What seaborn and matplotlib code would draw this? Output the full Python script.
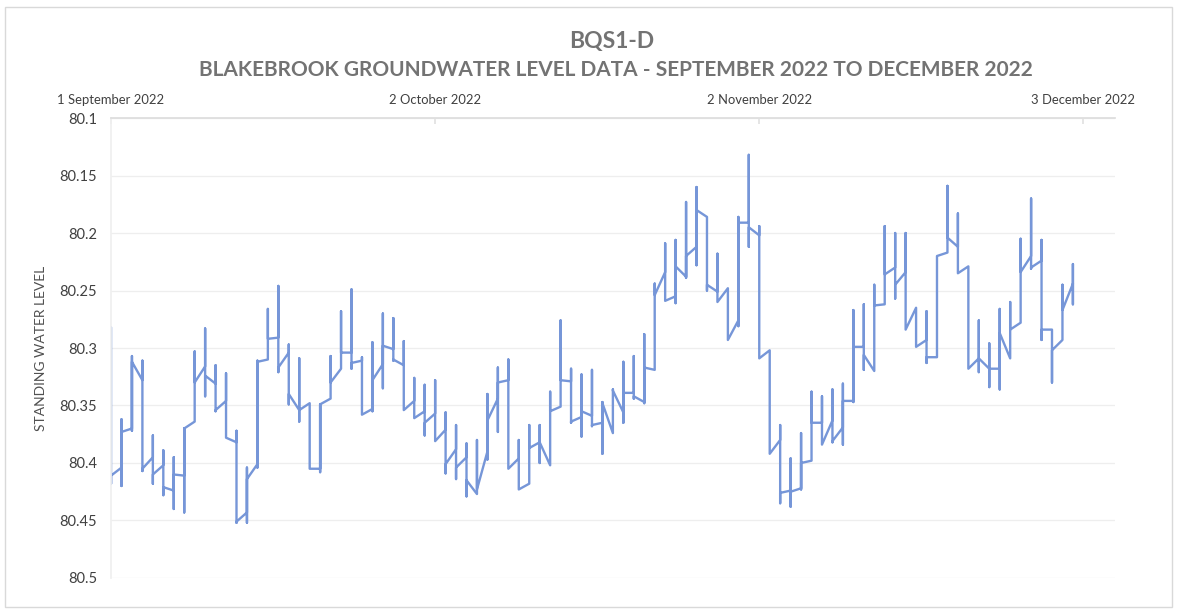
import pandas as pd
import matplotlib
matplotlib.use('Agg')
import matplotlib.pyplot as plt
from matplotlib.patches import Rectangle
import seaborn as sns

# daily readings, 1 Sep 2022 onwards: first reading, shallowest, deepest, last reading
start_date = '2022-09-01'
day_min = [80.282, 80.362, 80.307, 80.311, 80.376, 80.389, 80.395, 80.370, 80.303, 80.283,
           80.315, 80.322, 80.372, 80.404, 80.311, 80.266, 80.246, 80.297, 80.309, 80.348,
           80.349, 80.307, 80.268, 80.249, 80.308, 80.295, 80.270, 80.274, 80.294, 80.326,
           80.332, 80.328, 80.356, 80.367, 80.383, 80.380, 80.340, 80.317, 80.310, 80.380,
           80.367, 80.367, 80.338, 80.276, 80.318, 80.323, 80.319, 80.347, 80.336, 80.312,
           80.307, 80.288, 80.244, 80.209, 80.206, 80.173, 80.160, 80.186, 80.218, 80.248,
           80.186, 80.132, 80.194, 80.302, 80.367, 80.396, 80.374, 80.338, 80.342, 80.336,
           80.331, 80.267, 80.262, 80.245, 80.194, 80.200, 80.200, 80.265, 80.268, 80.220,
           80.159, 80.183, 80.229, 80.276, 80.296, 80.266, 80.260, 80.205, 80.170, 80.206,
           80.284, 80.245, 80.227]
day_max = [80.418, 80.420, 80.372, 80.407, 80.418, 80.428, 80.440, 80.443, 80.364, 80.342,
           80.355, 80.378, 80.452, 80.452, 80.404, 80.310, 80.321, 80.349, 80.364, 80.405,
           80.408, 80.344, 80.318, 80.318, 80.358, 80.355, 80.335, 80.311, 80.354, 80.361,
           80.376, 80.381, 80.409, 80.414, 80.429, 80.427, 80.397, 80.373, 80.405, 80.423,
           80.418, 80.400, 80.402, 80.351, 80.365, 80.377, 80.368, 80.392, 80.374, 80.365,
           80.344, 80.348, 80.319, 80.259, 80.261, 80.239, 80.228, 80.250, 80.260, 80.293,
           80.281, 80.212, 80.309, 80.392, 80.435, 80.438, 80.423, 80.398, 80.384, 80.382,
           80.384, 80.347, 80.319, 80.320, 80.262, 80.257, 80.284, 80.299, 80.313, 80.308,
           80.217, 80.235, 80.318, 80.321, 80.334, 80.336, 80.309, 80.278, 80.231, 80.293,
           80.330, 80.293, 80.262]
day_first = [80.282, 80.404, 80.370, 80.328, 80.395, 80.402, 80.424, 80.411, 80.364, 80.316,
             80.331, 80.346, 80.382, 80.443, 80.401, 80.310, 80.291, 80.304, 80.354, 80.348,
             80.405, 80.344, 80.318, 80.304, 80.311, 80.353, 80.314, 80.301, 80.315, 80.346,
             80.355, 80.357, 80.371, 80.388, 80.395, 80.427, 80.390, 80.344, 80.328, 80.396,
             80.418, 80.382, 80.402, 80.351, 80.329, 80.360, 80.359, 80.365, 80.374, 80.356,
             80.339, 80.347, 80.319, 80.234, 80.255, 80.238, 80.212, 80.186, 80.251, 80.248,
             80.276, 80.191, 80.202, 80.302, 80.380, 80.424, 80.422, 80.398, 80.365, 80.363,
             80.369, 80.346, 80.299, 80.320, 80.262, 80.230, 80.234, 80.265, 80.293, 80.308,
             80.217, 80.212, 80.229, 80.309, 80.318, 80.318, 80.309, 80.278, 80.220, 80.224,
             80.284, 80.293, 80.244]
day_last = [80.411, 80.373, 80.312, 80.405, 80.410, 80.421, 80.410, 80.370, 80.330, 80.324,
            80.354, 80.378, 80.451, 80.414, 80.312, 80.292, 80.317, 80.340, 80.354, 80.405,
            80.349, 80.330, 80.304, 80.313, 80.358, 80.328, 80.298, 80.310, 80.354, 80.361,
            80.365, 80.381, 80.401, 80.404, 80.415, 80.423, 80.363, 80.330, 80.405, 80.423,
            80.387, 80.382, 80.355, 80.328, 80.364, 80.355, 80.367, 80.348, 80.337, 80.339,
            80.342, 80.317, 80.254, 80.259, 80.229, 80.220, 80.180, 80.245, 80.260, 80.293,
            80.191, 80.195, 80.309, 80.392, 80.426, 80.425, 80.400, 80.365, 80.384, 80.381,
            80.346, 80.299, 80.306, 80.263, 80.236, 80.245, 80.284, 80.299, 80.308, 80.220,
            80.204, 80.235, 80.318, 80.309, 80.318, 80.287, 80.284, 80.234, 80.230, 80.284,
            80.302, 80.267, 80.244]

y_ticks = [80.1, 80.15, 80.2, 80.25, 80.3, 80.35, 80.4, 80.45, 80.5]
y_tick_labels = ['80.1', '80.15', '80.2', '80.25', '80.3', '80.35', '80.4', '80.45', '80.5']
x_tick_dates = ['2022-09-01', '2022-10-02', '2022-11-02', '2022-12-03']
x_tick_labels = ['1 September 2022', '2 October 2022', '2 November 2022', '3 December 2022']

# several readings share one date -> vertical strokes for each day
dates = pd.date_range(start_date, periods=len(day_min), freq='D')
rows = []
for d, a, lo, hi, b in zip(dates, day_first, day_min, day_max, day_last):
    for v in (a, lo, hi, b):
        rows.append((d, v))
df = pd.DataFrame(rows, columns=['date', 'level'])

sns.set_theme(style='white')
plt.rcParams['font.family'] = ['Lato', 'DejaVu Sans']

text_grey = '#737373'
fig = plt.figure(figsize=(11.85, 6.1), dpi=100)
fig.patches.append(Rectangle((0.004, 0.005), 0.985, 0.984, transform=fig.transFigure,
                             fill=False, edgecolor='#D9D9D9', linewidth=1))
ax = fig.add_axes([0.0937, 0.0525, 0.847, 0.754])

sns.lineplot(data=df, x='date', y='level', estimator=None, sort=False,
             color='#7696D8', linewidth=1.7, ax=ax)

ax.set_ylim(80.5, 80.1)
ax.set_yticks(y_ticks)
ax.set_yticklabels(y_tick_labels)
ax.set_xlim(pd.Timestamp('2022-09-01'), pd.Timestamp('2022-12-06'))
ax.xaxis.tick_top()
ax.set_xticks(pd.to_datetime(x_tick_dates))
ax.set_xticklabels(x_tick_labels)
ax.set_xlabel('')
ax.set_ylabel('STANDING WATER LEVEL', fontsize=10, color='#505050', labelpad=9)

ax.grid(axis='y', color='#EEEEEE', linewidth=0.9)
for s in ['right', 'bottom']:
    ax.spines[s].set_visible(False)
ax.spines['top'].set_color('#DDDDDD')
ax.spines['left'].set_color('#F0F0F0')
ax.tick_params(axis='x', colors='#E2E2E2', labelcolor='#404040', labelsize=9.4,
               length=4, direction='in', pad=9)
ax.tick_params(axis='y', labelcolor='#404040', labelsize=10.5, length=0, pad=10)

fig.text(0.516, 0.932, 'BQS1-D', ha='center', va='center', fontsize=16.5,
         fontweight='bold', color=text_grey)
fig.text(0.52, 0.885, 'BLAKEBROOK GROUNDWATER LEVEL DATA - SEPTEMBER 2022 TO DECEMBER 2022',
         ha='center', va='center', fontsize=15, fontweight='bold', color=text_grey)

fig.savefig('out.png', dpi=100)
